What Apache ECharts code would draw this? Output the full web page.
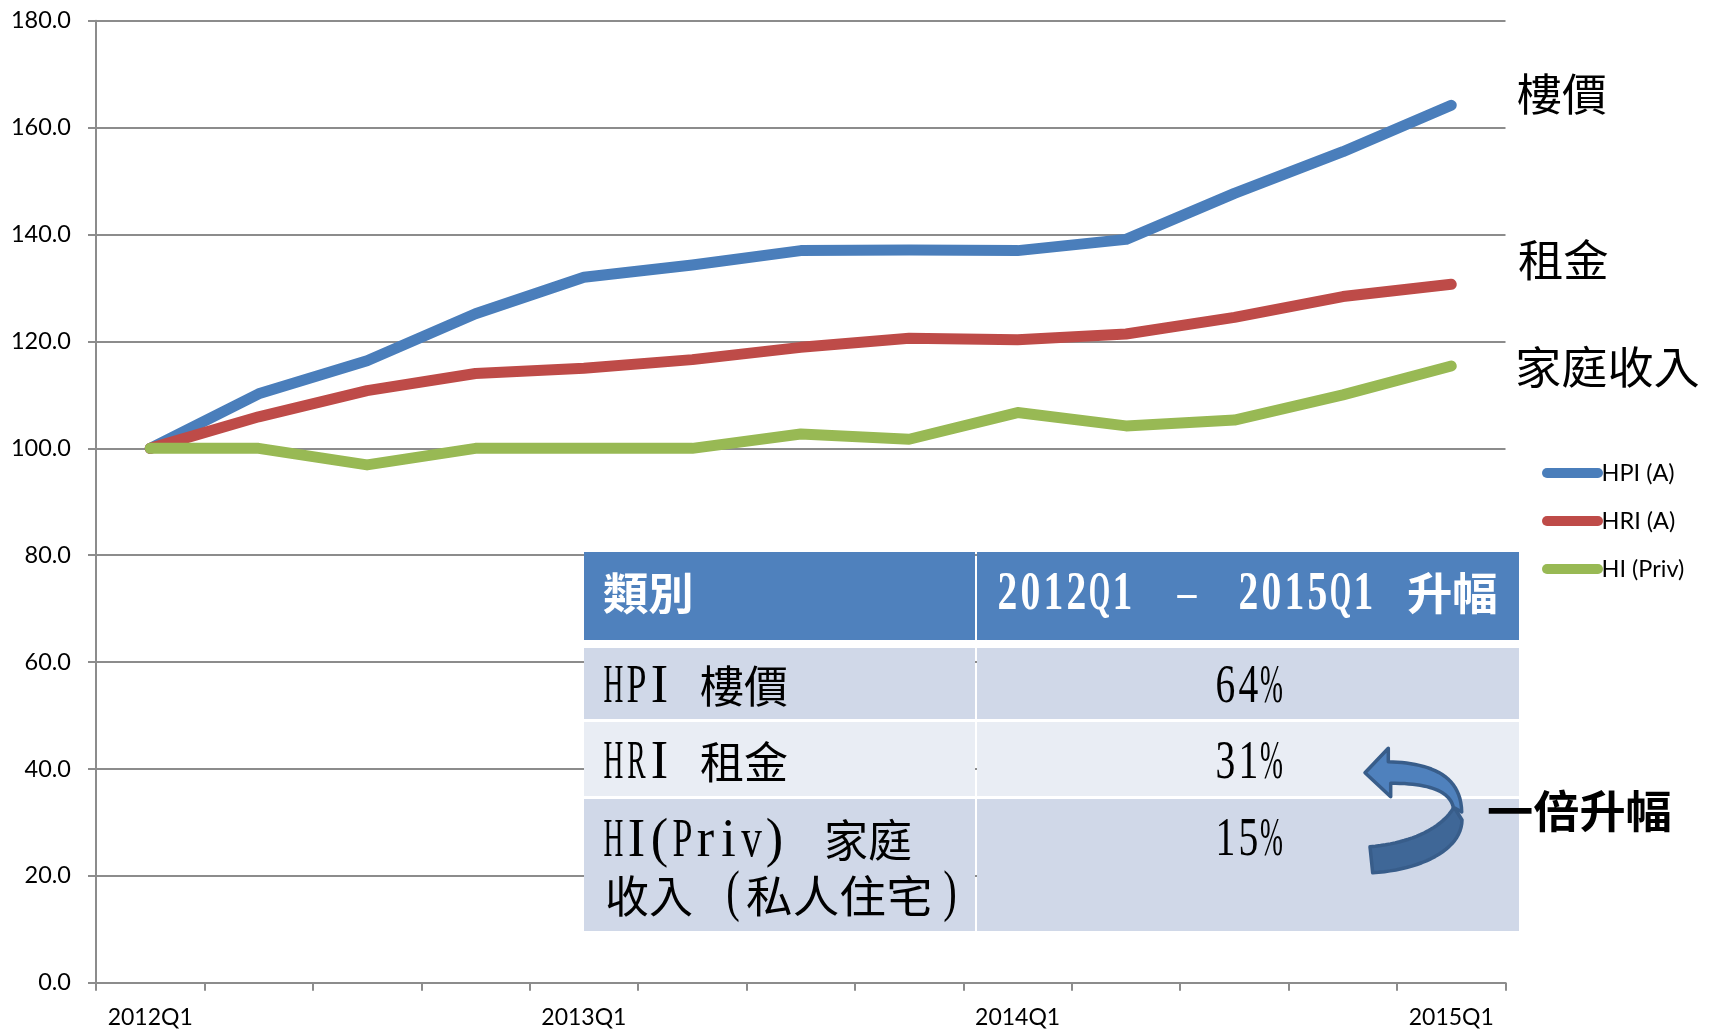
<!DOCTYPE html>
<html><head><meta charset="utf-8">
<style>html,body{margin:0;padding:0;background:#fff}#c{width:1713px;height:1029px}</style>
<script src="https://cdn.jsdelivr.net/npm/echarts@6/dist/echarts.min.js"></script>
</head><body><div id="c"></div>
<script>
const categories = ['2012Q1','2012Q2','2012Q3','2012Q4','2013Q1','2013Q2','2013Q3','2013Q4','2014Q1','2014Q2','2014Q3','2014Q4','2015Q1'];
const hpi = [100,110.2,116.4,125.2,132.0,134.3,137.0,137.1,137.0,139.1,147.7,155.5,164.2];
const hri = [100,105.9,110.8,114.0,115.0,116.6,118.9,120.6,120.3,121.4,124.5,128.4,130.7];
const hiPriv = [100,100,96.9,100,100,100,102.7,101.7,106.7,104.2,105.3,110.0,115.4];
const seriesNames = ['HPI (A)','HRI (A)','HI (Priv)'];
const lineLabels = ['樓價','租金','家庭收入'];
const headerCol1 = '類別';
const headerFrom = '2012Q1', headerDash = '–', headerTo = '2015Q1', headerRise = '升幅';
const rowLatin = ['HPI','HRI','HI(Priv)'];
const rowCjk = ['樓價','租金','家庭'];
const row3Line2 = ['收入','(','私人住宅',')'];
const rises = ['64%','31%','15%'];
const arrowLabel = '一倍升幅';

const CJK = '"Noto Sans CJK TC"';
const SERIF = '"Liberation Serif"';
const LAT = 'Lato, "Open Sans"';

function cjk(text, x, yc, size, sx, fill, weight){
  return {type:'text', z:110, x, y:yc, scaleX:sx, style:{text, x:0, y:0, fill, font:(weight||'normal')+' '+size+'px '+CJK, textAlign:'left', textVerticalAlign:'middle'}};
}
function one(text, x, yc, size, sx, fill, weight){
  return {type:'text', z:110, x, y:yc, scaleX:sx, style:{text, x:0, y:0, fill, font:(weight||'normal')+' '+size+'px '+SERIF, textAlign:'center', textVerticalAlign:'middle'}};
}
// the reference's Latin face is a narrow fixed-pitch serif: set each glyph on a fixed pitch
const PITCH = 23;
function glyphScale(ch){
  if('HRQ%'.includes(ch)) return 0.5;
  if(ch==='P') return 0.65;
  if(ch==='I' || ch==='i' || ch==='r' || ch==='(' || ch===')') return 0.95;
  if(ch==='v') return 0.75;
  return 0.72;
}
function mono(text, x, yc, fill, weight){
  return Array.from(text).map((ch,i)=>one(ch, x+PITCH*(i+0.5), yc, 55, glyphScale(ch), fill, weight));
}
function rect(x,y,w,h,fill){ return {type:'rect', z:100, shape:{x,y,width:w,height:h}, style:{fill}}; }
function bez(p0,p1,p2,p3){
  const out=[];
  for(let k=0;k<=24;k++){const t=k/24,u=1-t;
    out.push([u*u*u*p0[0]+3*u*u*t*p1[0]+3*u*t*t*p2[0]+t*t*t*p3[0], u*u*u*p0[1]+3*u*u*t*p1[1]+3*u*t*t*p2[1]+t*t*t*p3[1]]);}
  return out;
}
const arrowLower = [].concat(
  bez([1370,846.7],[1413,843],[1443,827],[1454,807]),
  bez([1462,820],[1461.7,850],[1420,870],[1372.7,872.7]));
const arrowUpper = [].concat(
  [[1365,772.7],[1388.3,748.3]],
  bez([1388.3,761.7],[1425,763],[1461,772],[1461.7,812]),
  bez([1453.3,807.3],[1450,791.7],[1430,783],[1390.7,783.3]),
  [[1390.7,796.7]]);

const INK='#000', WHITE='#fff', HEAD='#4F81BD', R1='#D0D8E8', R2='#E9EDF4';
const graphics = [
  rect(584,552,391,88,HEAD), rect(977,552,542,88,HEAD),
  rect(584,648,391,71,R1), rect(977,648,542,71,R1),
  rect(584,722,391,74,R2), rect(977,722,542,74,R2),
  rect(584,799,391,132,R1), rect(977,799,542,132,R1),

  cjk(headerCol1,603,593,44,1.03,WHITE,'bold'),
  ...mono(headerFrom,996,595,WHITE,'bold'),
  one(headerDash,1187,595,42,0.9,WHITE,'bold'),
  ...mono(headerTo,1237,595,WHITE,'bold'),
  cjk(headerRise,1407,593,44,1.03,WHITE,'bold'),

  ...mono(rowLatin[0],602,688,INK),
  cjk(rowCjk[0],700,686,44,1,INK),
  ...mono(rises[0],1214,688,INK),

  ...mono(rowLatin[1],602,764,INK),
  cjk(rowCjk[1],700,762,44,1,INK),
  ...mono(rises[1],1214,764,INK),

  ...mono(rowLatin[2],602,842,INK),
  cjk(rowCjk[2],824,840,44,1,INK),
  ...mono(rises[2],1214,841,INK),

  cjk(row3Line2[0],605,896,44,1,INK),
  one(row3Line2[1],733,895,58,0.7,INK),
  cjk(row3Line2[2],746,896,44,1.06,INK),
  one(row3Line2[3],950,895,58,0.7,INK),

  cjk(lineLabels[0],1517,94,44,1.02,INK),
  cjk(lineLabels[1],1518,260,44,1.03,INK),
  cjk(lineLabels[2],1515,367,44,1.05,INK),

  {type:'polygon', z:120, shape:{points:arrowLower},
   style:{fill:'#3F6797', stroke:'#385D8A', lineWidth:3.5, lineJoin:'round'}},
  {type:'polygon', z:121, shape:{points:arrowUpper},
   style:{fill:'#4F81BD', stroke:'#385D8A', lineWidth:3.5, lineJoin:'round'}},
  cjk(arrowLabel,1487,811,44,1.05,INK,'bold')
];

const colors=['#4A7EBB','#BE4B48','#98B954'];
const mk=(name,data,color)=>({name,type:'line',data,symbol:'none',animation:false,
  lineStyle:{width:11,color,cap:'round',join:'round'},itemStyle:{color}});
const chart=echarts.init(document.getElementById('c'),null,{renderer:'canvas'});
chart.setOption({
  animation:false,
  backgroundColor:'#fff',
  grid:{left:96,right:207.5,top:20.8,bottom:46.2,containLabel:false},
  xAxis:{type:'category',data:categories,boundaryGap:true,
    axisLine:{lineStyle:{color:'#8c8c8c',width:2}},
    axisTick:{show:true,interval:0,length:8,lineStyle:{color:'#8c8c8c',width:2}},
    axisLabel:{interval:3,margin:23,color:'#000',fontFamily:LAT,fontSize:23,hideOverlap:false},
    splitLine:{show:false}},
  yAxis:{type:'value',min:0,max:180,interval:20,
    axisLine:{show:true,lineStyle:{color:'#8c8c8c',width:2}},
    axisTick:{show:true,length:8,lineStyle:{color:'#8c8c8c',width:2}},
    axisLabel:{margin:25,color:'#000',fontFamily:LAT,fontSize:23.5,formatter:v=>v.toFixed(1)},
    splitLine:{show:true,lineStyle:{color:'#8c8c8c',width:2}}},
  legend:{show:true,orient:'vertical',left:1537,top:456,itemWidth:64,itemHeight:10,itemGap:24,
    icon:'path://M5 0H56A5 5 0 0 1 56 10H5A5 5 0 0 1 5 0Z',
    data:seriesNames,selectedMode:false,
    textStyle:{color:'#000',fontFamily:LAT,fontSize:23.5,lineHeight:22,padding:[0,0,0,-8]}},
  series:[mk(seriesNames[0],hpi,colors[0]),mk(seriesNames[1],hri,colors[1]),mk(seriesNames[2],hiPriv,colors[2])],
  graphic:{elements:graphics}
});
</script></body></html>
